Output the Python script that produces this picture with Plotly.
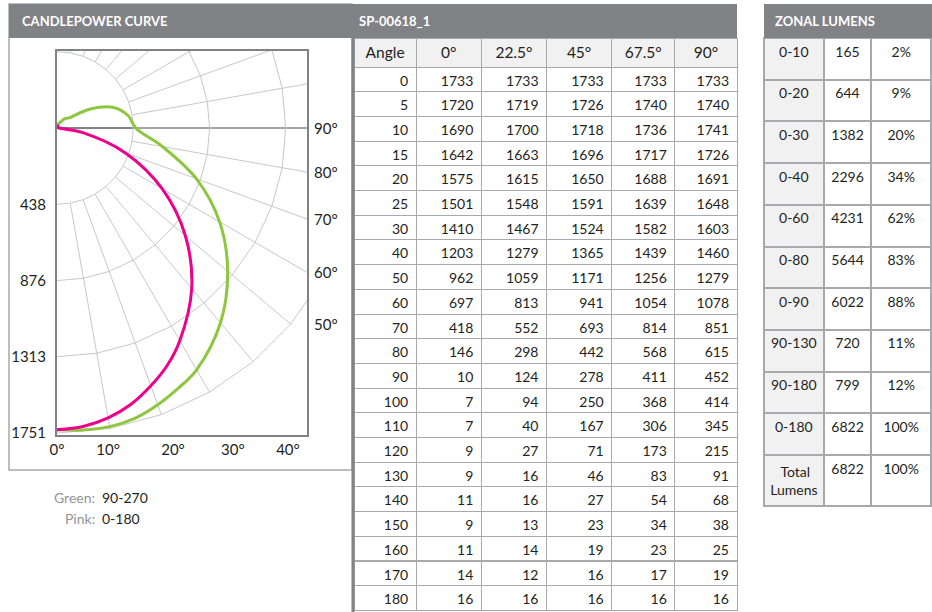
import numpy as np
import plotly.graph_objects as go

# ---------------- data ----------------
angles = [0, 5, 10, 15, 20, 25, 30, 40, 50, 60, 70, 80, 90, 100, 110, 120, 130, 140, 150, 160, 170, 180]
cd_0 = [1733, 1720, 1690, 1642, 1575, 1501, 1410, 1203, 962, 697, 418, 146, 10, 7, 7, 9, 9, 11, 9, 11, 14, 16]
cd_225 = [1733, 1719, 1700, 1663, 1615, 1548, 1467, 1279, 1059, 813, 552, 298, 124, 94, 40, 27, 16, 16, 13, 14, 12, 16]
cd_45 = [1733, 1726, 1718, 1696, 1650, 1591, 1524, 1365, 1171, 941, 693, 442, 278, 250, 167, 71, 46, 27, 23, 19, 16, 16]
cd_675 = [1733, 1740, 1736, 1717, 1688, 1639, 1582, 1439, 1256, 1054, 814, 568, 411, 368, 306, 173, 83, 54, 34, 23, 17, 16]
cd_90 = [1733, 1740, 1741, 1726, 1691, 1648, 1603, 1460, 1279, 1078, 851, 615, 452, 414, 345, 215, 91, 68, 38, 25, 19, 16]
table_headers = ["Angle", "0°", "22.5°", "45°", "67.5°", "90°"]

ring_values = [438, 876, 1313, 1751]
ring_labels = ["438", "876", "1313", "1751"]
side_angle_labels = [90, 80, 70, 60, 50]
bottom_labels = ["0°", "10°", "20°", "30°", "40°"]

zones = ["0-10", "0-20", "0-30", "0-40", "0-60", "0-80", "0-90", "90-130", "90-180", "0-180",
         "\u00a0\u00a0\u00a0Total<br>Lumens"]
zone_lumens = [165, 644, 1382, 2296, 4231, 5644, 6022, 720, 799, 6822, 6822]
zone_pct = ["2%", "9%", "20%", "34%", "62%", "83%", "88%", "11%", "12%", "100%", "100%"]

# ---------------- style ----------------
W, H = 932, 612
FONT = "Lato"
DARK = "#231f20"
HEAD_GRAY = "#808285"
GRID = "#c7c8ca"
CELL_LINE = "#a7a9ac"
LIGHT = "#f1f1f2"
PINK = "#ec008c"
GREEN = "#8dc63f"


def px(x):
    return x / W


def py(y):
    return 1 - y / H


fig = go.Figure()

# ---------------- polar grid drawn on cartesian axes ----------------
rmax = ring_values[-1]
gx, gy = [], []
for r in ring_values:
    th = np.radians(np.arange(0, 181, 10))
    gx += list(r * np.sin(th)) + [None]
    gy += list(-r * np.cos(th)) + [None]
for a in range(10, 180, 10):
    t = np.radians(a)
    gx += [ring_values[0] * np.sin(t), rmax * np.sin(t), None]
    gy += [-ring_values[0] * np.cos(t), -rmax * np.cos(t), None]
fig.add_trace(go.Scatter(x=gx, y=gy, mode="lines", line=dict(color=GRID, width=1),
                         hoverinfo="skip", showlegend=False, xaxis="x", yaxis="y"))


def curve(vals):
    th = np.radians(angles)
    v = np.array(vals, dtype=float)
    return v * np.sin(th), -v * np.cos(th)


xg, yg = curve(cd_90)
fig.add_trace(go.Scatter(x=xg, y=yg, mode="lines", line=dict(color=GREEN, width=3, shape="spline", smoothing=1),
                         showlegend=False, xaxis="x", yaxis="y"))
xp_, yp_ = curve(cd_0)
fig.add_trace(go.Scatter(x=xp_, y=yp_, mode="lines", line=dict(color=PINK, width=3, shape="spline", smoothing=1),
                         showlegend=False, xaxis="x", yaxis="y"))

# plot box in pixels: x 57..307, y 51..435, centre at y=128
scale = 305 / rmax
xmax = 250 / scale
ytop = 77 / scale
ybot = -307 / scale

# ---------------- tables ----------------
fig.add_trace(go.Table(
    domain=dict(x=[px(354), px(737)], y=[0, py(38)]),
    columnwidth=[62, 65, 65, 65, 63, 62],
    header=dict(values=table_headers, fill_color=LIGHT, line=dict(color=CELL_LINE, width=1),
                align="center", height=29, font=dict(family=FONT, size=15.5, color=DARK)),
    cells=dict(values=[angles, cd_0, cd_225, cd_45, cd_675, cd_90], fill_color="white",
               line=dict(color=CELL_LINE, width=1), align="right", height=24.7,
               font=dict(family=FONT, size=14, color=DARK)),
))

fig.add_trace(go.Table(
    domain=dict(x=[px(764), px(932)], y=[0, py(38)]),
    columnwidth=[60, 48, 60],
    header=dict(values=[zones[0], str(zone_lumens[0]), zone_pct[0]],
                fill_color=[LIGHT, "white", "white"], line=dict(color=CELL_LINE, width=2),
                align="center", height=41.7, font=dict(family=FONT, size=14, color=DARK)),
    cells=dict(values=[zones[1:], [str(v) for v in zone_lumens[1:]], zone_pct[1:]],
               fill_color=[[LIGHT] * 10, ["white"] * 10, ["white"] * 10],
               line=dict(color=CELL_LINE, width=2), align="center", height=41.7,
               font=dict(family=FONT, size=14, color=DARK)),
))

# ---------------- shapes ----------------
shapes = [
    dict(type="rect", xref="paper", yref="paper", x0=px(9), x1=px(352), y0=py(470), y1=py(4),
         line=dict(color=CELL_LINE, width=1.5), fillcolor="rgba(0,0,0,0)", layer="below"),
    dict(type="rect", xref="paper", yref="paper", x0=px(9), x1=px(737), y0=py(38), y1=py(4),
         line=dict(width=0), fillcolor=HEAD_GRAY),
    dict(type="rect", xref="paper", yref="paper", x0=px(764), x1=px(932), y0=py(38), y1=py(4),
         line=dict(width=0), fillcolor=HEAD_GRAY),
    dict(type="line", xref="paper", yref="paper", x0=px(353), x1=px(353), y0=0, y1=py(38),
         line=dict(color=HEAD_GRAY, width=3)),
]

annotations = [
    dict(text="<b>CANDLEPOWER CURVE</b>", x=px(20), y=py(21), xref="paper", yref="paper",
         xanchor="left", yanchor="middle", showarrow=False, font=dict(family=FONT, size=13, color="white")),
    dict(text="<b>SP-00618_1</b>", x=px(357), y=py(21), xref="paper", yref="paper",
         xanchor="left", yanchor="middle", showarrow=False, font=dict(family=FONT, size=13, color="white")),
    dict(text="<b>ZONAL LUMENS</b>", x=px(773), y=py(21), xref="paper", yref="paper",
         xanchor="left", yanchor="middle", showarrow=False, font=dict(family=FONT, size=13, color="white")),
    dict(text="Green:", x=px(97), y=py(497), xref="paper", yref="paper", xanchor="right", yanchor="middle",
         showarrow=False, font=dict(family=FONT, size=14, color="#939598")),
    dict(text="90-270", x=px(100), y=py(497), xref="paper", yref="paper", xanchor="left", yanchor="middle",
         showarrow=False, font=dict(family=FONT, size=14, color=DARK)),
    dict(text="Pink:", x=px(97), y=py(518), xref="paper", yref="paper", xanchor="right", yanchor="middle",
         showarrow=False, font=dict(family=FONT, size=14, color="#939598")),
    dict(text="0-180", x=px(100), y=py(518), xref="paper", yref="paper", xanchor="left", yanchor="middle",
         showarrow=False, font=dict(family=FONT, size=14, color=DARK)),
]
for a in side_angle_labels:
    t = np.radians(a)
    depth = xmax / np.tan(t) if a != 90 else 0.0
    depth = min(depth, rmax * np.cos(t))
    annotations.append(dict(text=f"{a}°", x=xmax, y=-depth, xref="x", yref="y", xanchor="left",
                            yanchor="middle", xshift=5, showarrow=False,
                            font=dict(family=FONT, size=15, color=DARK)))

fig.update_layout(
    width=W, height=H, margin=dict(l=0, r=0, t=0, b=0, pad=0, autoexpand=False),
    paper_bgcolor="white", plot_bgcolor="white",
    font=dict(family=FONT, color=DARK),
    shapes=shapes, annotations=annotations, showlegend=False,
    xaxis=dict(domain=[px(57), px(307)], range=[0, xmax], showgrid=False, zeroline=False,
               showline=True, mirror=True, linecolor=HEAD_GRAY, linewidth=2, automargin=False,
               tickmode="array", tickvals=[0, 293, 666, 1010, 1326], ticktext=bottom_labels,
               ticks="", tickfont=dict(family=FONT, size=15, color=DARK), fixedrange=True),
    yaxis=dict(domain=[py(435), py(51)], range=[ybot, ytop], showgrid=False,
               zeroline=True, zerolinecolor=HEAD_GRAY, zerolinewidth=2, automargin=False,
               showline=True, mirror=True, linecolor=HEAD_GRAY, linewidth=2,
               tickmode="array", tickvals=[-v for v in ring_values], ticktext=ring_labels,
               ticks="", ticklabelstandoff=6, tickfont=dict(family=FONT, size=15, color=DARK), fixedrange=True),
)

fig.write_html("out.html", config={"displayModeBar": False},
               post_script="document.body.style.margin='0';document.body.style.padding='0';"
                           "document.body.style.overflow='hidden';")
